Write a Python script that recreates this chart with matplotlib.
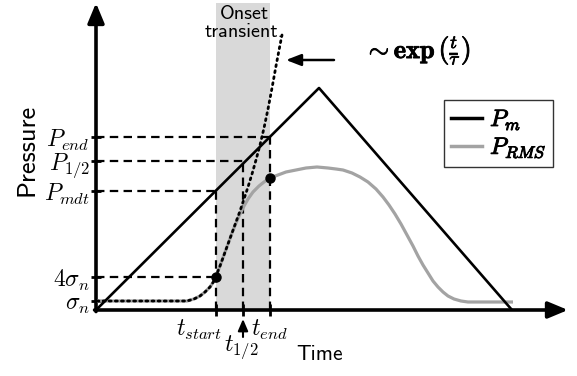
import matplotlib
matplotlib.use("Agg")
import matplotlib.pyplot as plt
import matplotlib.patheffects as pe
from matplotlib.lines import Line2D

plt.rcParams['mathtext.fontset'] = 'cm'
plt.rcParams['font.family'] = ['DejaVu Sans']
SANS = ['cmss10', 'DejaVu Sans']

# ---- schematic data (arbitrary units) ----
pm_t = [0, 223, 416]
pm_p = [0, 222, 0]

rms_t = [1, 40, 80, 91, 98, 104, 109, 114, 118, 120, 124, 128, 132, 136, 140,
         144, 148, 152, 157, 163, 168, 174, 182, 190, 200, 210, 221, 232, 240,
         247, 256, 264, 272, 280, 287, 293, 299, 305, 311, 317, 322, 327, 332,
         337, 342, 347, 352, 358, 365, 372, 390, 417]
rms_p = [9, 9, 9, 9, 11, 14, 18, 23, 29, 34, 44, 55, 66, 77, 87,
         96, 104, 111, 118, 124, 128, 132, 135, 138, 140, 142, 143, 142, 141,
         140, 137, 133, 128, 121, 113, 105, 96, 86, 75, 64, 54, 45, 37,
         29, 23, 18, 14, 11, 9, 8, 8, 8]

exp_t = [1, 40, 80, 91, 98, 104, 109, 114, 118, 120, 124, 128, 132, 136, 140,
         144, 148, 152, 156, 160, 164, 168, 172, 176, 180, 184, 186]
exp_p = [9, 9, 9, 9, 11, 14, 18, 23, 29, 34, 44, 55, 66, 77, 88,
         99, 111, 123, 136, 150, 165, 182, 201, 222, 244, 265, 275]

t_start, t_half, t_end = 120, 147, 174
P_mdt, P_half, P_end = 119, 149, 173
sig4, sig = 33, 9
dots_t = [t_start, t_end]
dots_p = [sig4, 132]

ytick_vals = [sig, sig4, P_mdt, P_half, P_end]
ytick_labels = [r'$\sigma_n$', r'$4\sigma_n$', r'$P_{mdt}$', r'$P_{1/2}$', r'$P_{end}$']

W, H = 577, 376
fig = plt.figure(figsize=(W / 100, H / 100), dpi=100)
x0, x1, y0, y1 = 96, 568, 310, 3
ax = fig.add_axes([x0 / W, (H - y0) / H, (x1 - x0) / W, (y0 - y1) / H])
ax.set_xlim(0, x1 - x0)
ax.set_ylim(0, y0 - y1)
for s in ax.spines.values():
    s.set_visible(False)

# shaded onset region
ax.axvspan(t_start, t_end, color='#d9d9d9', lw=0, zorder=0)

# axes arrows
arrow_kw = dict(arrowstyle='-|>,head_length=12,head_width=5', lw=2.6, color='k',
                shrinkA=0, shrinkB=0, mutation_scale=1)
ax.annotate('', xy=(1, 0), xytext=(-0.003, 0), xycoords='axes fraction',
            arrowprops=arrow_kw, annotation_clip=False)
ax.annotate('', xy=(0, 1), xytext=(0, -0.005), xycoords='axes fraction',
            arrowprops=arrow_kw, annotation_clip=False)

dash = (0, (3.8, 2.4))
# dashed guide lines
for p, t in [(P_end, t_end), (P_half, t_half), (P_mdt, t_start), (sig4, t_start)]:
    ax.plot([0, t], [p, p], color='k', lw=1.6, ls=dash, zorder=2)
for t, p in [(t_end, P_end), (t_half, P_half), (t_start, P_mdt)]:
    ax.plot([t, t], [0, p], color='k', lw=1.6, ls=dash, zorder=2)
ax.plot([0, 8], [sig, sig], color='k', lw=1.6, ls=dash, zorder=2)

# curves
ax.plot(rms_t, rms_p, color='#a3a3a3', lw=2.3, zorder=3, solid_capstyle='butt',
        solid_joinstyle='round')
ax.plot(pm_t, pm_p, color='k', lw=1.9, zorder=4)
ax.plot(exp_t, exp_p, color='k', lw=2.0, ls=(0, (0.7, 1.5)), zorder=5,
        dash_capstyle='round')
ax.plot(dots_t, dots_p, 'o', color='k', ms=6.5, zorder=6)

# ticks
ax.set_yticks(ytick_vals, ytick_labels, fontsize=17)
ax.tick_params(axis='y', direction='inout', length=7, width=2, pad=1)
ax.set_xticks([t_start, t_half, t_end], ['', '', ''])
ax.tick_params(axis='x', direction='inout', length=9, width=2)

ax.annotate(r'$t_{start}$', xy=(t_start, 0), xytext=(-17, -20),
            textcoords='offset pixels', ha='center', va='center', fontsize=17,
            annotation_clip=False)
ax.annotate(r'$t_{end}$', xy=(t_end, 0), xytext=(-1, -20),
            textcoords='offset pixels', ha='center', va='center', fontsize=17,
            annotation_clip=False)
ax.annotate(r'$t_{1/2}$', xy=(t_half, 0), xytext=(-2, -37),
            textcoords='offset pixels', ha='center', va='center', fontsize=17,
            annotation_clip=False)
ax.annotate('', xy=(t_half, -9), xytext=(t_half, -27),
            arrowprops=dict(arrowstyle='-|>,head_length=7,head_width=3', lw=1.5,
                            color='k', shrinkA=0, shrinkB=0, mutation_scale=1),
            annotation_clip=False)

# axis labels
fig.text(27 / W, 1 - 150 / H, 'Pressure', rotation=90, ha='center', va='center',
         fontsize=19, family=SANS)
fig.text(320 / W, 1 - 355 / H, 'Time', ha='center', va='center', fontsize=15.5,
         family=SANS)

# annotations
ax.text((t_start + t_end) / 2 + 1, 307 - 20, 'Onset\ntransient.', ha='center',
        va='center', fontsize=14.5, linespacing=1.0, family=SANS)
ax.annotate('', xy=(190, 250), xytext=(238, 250),
            arrowprops=dict(arrowstyle='-|>,head_length=9,head_width=3.5', lw=1.8,
                            color='k', shrinkA=0, shrinkB=0, mutation_scale=1))
ax.text(268, 260, r'$\sim \mathbf{exp}\,\left(\frac{t}{\tau}\right)$',
        ha='left', va='center', fontsize=19,
        path_effects=[pe.withStroke(linewidth=0.6, foreground='k')])

# legend
handles = [Line2D([], [], color='k', lw=2.5), Line2D([], [], color='#a3a3a3', lw=2.5)]
leg = ax.legend(handles, [r'$P_m$', r'$P_{RMS}$'],
                loc='upper left', bbox_to_anchor=((444 - x0) / (x1 - x0), (y0 - 100) / (y0 - y1)),
                fontsize=17, frameon=True, fancybox=False, edgecolor='k',
                handlelength=1.3, handletextpad=0.35, borderpad=0.3, labelspacing=0.12,
                borderaxespad=0)
leg.get_frame().set_linewidth(1.0)
for txt in leg.get_texts():
    txt.set_path_effects([pe.withStroke(linewidth=0.7, foreground='k')])

fig.savefig('out.png', dpi=100)
